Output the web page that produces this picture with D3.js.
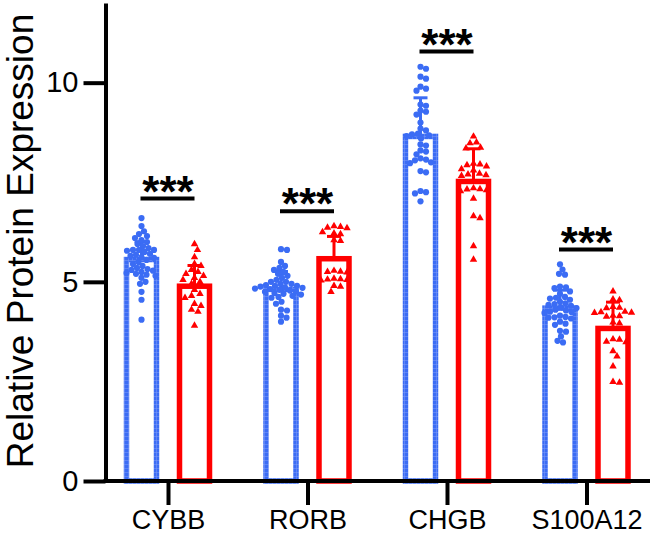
<!DOCTYPE html>
<html>
<head>
<meta charset="utf-8">
<script src="https://cdn.jsdelivr.net/npm/d3@7"></script>
<style>
  body { margin: 0; background: #fff; }
  svg { display: block; font-family: "Liberation Sans", Arial, sans-serif; }
</style>
</head>
<body>
<script>
var categories = ["CYBB", "RORB", "CHGB", "S100A12"];
var yTicks = [0, 5, 10];

var blueMean = [5.56, 4.81, 8.65, 4.34];
var blueSD = [0.45, 0.45, 0.97, 0.45];
var redMean = [4.89, 5.58, 7.52, 3.83];
var redSD = [0.52, 0.56, 0.82, 0.66];

var bluePoints = [
  [6.6, 6.4, 6.27, 6.2, 6.15, 6.1, 6.05, 6.0, 5.95, 5.9, 5.85, 5.8, 5.8, 5.8, 5.78, 5.75, 5.7, 5.65, 5.6, 5.55,
   5.5, 5.45, 5.4, 5.35, 5.32, 5.3, 5.28, 5.25, 5.22, 5.2, 5.18, 5.15, 5.1, 5.0, 4.95, 4.75, 4.55, 4.05, 5.62, 5.68],
  [5.82, 5.8, 5.5, 5.4, 5.35, 5.3, 5.25, 5.15, 5.1, 5.05, 5.0, 5.0, 4.95, 4.92, 4.9, 4.88, 4.86, 4.85, 4.83, 4.82,
   4.8, 4.78, 4.76, 4.75, 4.72, 4.7, 4.68, 4.65, 4.62, 4.6, 4.5, 4.45, 4.3, 4.28, 4.15, 4.1, 4.0, 4.9, 4.95, 5.2],
  [10.4, 10.35, 10.15, 10.1, 9.9, 9.85, 9.8, 9.45, 9.42, 9.3, 9.27, 9.2, 8.85, 8.8, 8.72, 8.7, 8.68, 8.66, 8.45, 8.42,
   8.27, 8.1, 8.07, 8.05, 8.0, 7.98, 7.78, 7.75, 7.28, 7.25, 7.22, 7.02, 8.6, 8.3, 9.0, 8.2],
  [5.44, 5.31, 5.2, 5.18, 4.88, 4.86, 4.84, 4.76, 4.62, 4.6, 4.58, 4.46, 4.44, 4.42, 4.36, 4.34, 4.25, 4.24, 4.22, 4.12,
   4.11, 4.1, 4.08, 3.95, 3.92, 3.77, 3.75, 3.63, 3.52, 3.48, 4.5, 4.3, 4.15, 4.7, 4.4, 4.0, 4.55, 4.28]
];
var redPoints = [
  [5.95, 5.8, 5.62, 5.45, 5.4, 5.25, 5.2, 5.15, 5.1, 5.05, 5.0, 4.95, 4.7, 4.65, 4.6, 4.45, 4.4, 4.3, 4.25, 3.9, 5.3, 4.8],
  [6.4, 6.38, 6.36, 6.35, 6.25, 6.22, 6.2, 6.05, 6.03, 5.28, 5.26, 5.25, 5.24, 5.08, 5.07, 5.06, 5.05, 5.04, 4.9, 4.88, 4.75],
  [8.65, 8.5, 8.48, 8.37, 8.35, 7.97, 7.95, 7.93, 7.9, 7.83, 7.8, 7.72, 7.7, 7.68, 7.66, 7.35, 7.33, 7.3, 7.32, 7.28,
   7.09, 6.65, 6.6, 5.9, 5.56],
  [4.76, 4.56, 4.54, 4.37, 4.35, 4.34, 4.25, 4.24, 4.23, 4.22, 4.15, 4.14, 4.13, 3.98, 3.96, 3.56, 3.55, 3.5, 3.49, 3.26,
   3.13, 2.88, 2.49, 2.47]
];

var sigY = [7.09, 6.77, 10.78, 5.81];
var sigLabel = ["***", "***", "***", "***"];

var width = 650, height = 536;
var blue = "#3b6cf4", red = "#ff0000";
var offset = 26.5, barW = 30;

var x = d3.scalePoint().domain(categories).range([168, 586.5]);
var y = d3.scaleLinear().domain([0, 12]).range([481, 3]);

var svg = d3.select("body").append("svg")
    .attr("width", width)
    .attr("height", height);

// grid texture used on the blue bars
var pat = svg.append("defs").append("pattern")
    .attr("id", "bluegrid")
    .attr("patternUnits", "userSpaceOnUse")
    .attr("width", 4).attr("height", 4);
pat.append("rect").attr("width", 4).attr("height", 4).attr("fill", blue);
pat.append("path").attr("d", "M0,0.5H4M0.5,0V4")
    .attr("stroke", "#7f9cf7").attr("stroke-width", 0.5);

// simple dodge layout so points do not sit on top of each other
function swarm(values, minDist) {
  var placed = [];
  values.map(function(v) { return { v: v, py: y(v) }; })
    .sort(function(a, b) { return b.v - a.v; })
    .forEach(function(p) {
      p.dx = 0;
      for (var k = 0; k < 120; k++) {
        var dx = (k % 2 ? 1 : -1) * Math.ceil(k / 2) * 0.5;
        var ok = placed.every(function(q) {
          return (dx - q.dx) * (dx - q.dx) + (p.py - q.py) * (p.py - q.py) >= minDist * minDist;
        });
        if (ok) { p.dx = dx; break; }
      }
      placed.push(p);
    });
  return placed;
}

var groups = [
  { mean: blueMean, sd: blueSD, off: -offset, color: blue, stroke: "url(#bluegrid)" },
  { mean: redMean, sd: redSD, off: offset, color: red, stroke: red }
];

groups.forEach(function(g) {
  var gg = svg.append("g");

  // bars
  gg.selectAll("rect")
    .data(categories)
    .enter().append("rect")
    .attr("x", function(d) { return x(d) + g.off - barW / 2; })
    .attr("y", function(d, i) { return y(g.mean[i]); })
    .attr("width", barW)
    .attr("height", function(d, i) { return y(0) - y(g.mean[i]); })
    .attr("fill", "#fff")
    .attr("stroke", g.stroke)
    .attr("stroke-width", 5.5);

  // error bars (upper SD)
  categories.forEach(function(c, i) {
    var cx = x(c) + g.off;
    var top = y(g.mean[i] + g.sd[i]);
    gg.append("line")
      .attr("x1", cx).attr("x2", cx)
      .attr("y1", y(g.mean[i])).attr("y2", top)
      .attr("stroke", g.color).attr("stroke-width", 3);
    gg.append("line")
      .attr("x1", cx - 7).attr("x2", cx + 7)
      .attr("y1", top).attr("y2", top)
      .attr("stroke", g.color).attr("stroke-width", 3);
  });
});

// points
categories.forEach(function(c, i) {
  var bx = x(c) - offset;
  svg.append("g").selectAll("circle")
    .data(swarm(bluePoints[i], 5.6))
    .enter().append("circle")
    .attr("cx", function(d) { return bx + d.dx; })
    .attr("cy", function(d) { return d.py; })
    .attr("r", 3.1)
    .attr("fill", blue);

  var rx = x(c) + offset;
  svg.append("g").selectAll("path")
    .data(swarm(redPoints[i], 6.5))
    .enter().append("path")
    .attr("d", d3.symbol().type(d3.symbolTriangle).size(24))
    .attr("transform", function(d) { return "translate(" + (rx + d.dx) + "," + d.py + ")"; })
    .attr("fill", red);
});

// axis-y
var yAxis = svg.append("g")
    .attr("transform", "translate(105.5,0)")
    .call(d3.axisLeft(y).tickValues(yTicks).tickSize(22).tickPadding(5).tickSizeOuter(0));
yAxis.attr("font-size", 29).attr("font-family", "Liberation Sans, Arial, sans-serif");
yAxis.select(".domain").attr("stroke-width", 4);
yAxis.selectAll(".tick line").attr("stroke-width", 4);
yAxis.selectAll("text").attr("fill", "#000");

// axis-x
var xAxis = svg.append("g")
    .attr("transform", "translate(0," + y(0) + ")")
    .call(d3.axisBottom(x).tickSize(24).tickPadding(5));
xAxis.attr("font-size", 27).attr("font-family", "Liberation Sans, Arial, sans-serif");
xAxis.select(".domain").remove();
xAxis.append("line")
    .attr("x1", 103.5).attr("x2", width)
    .attr("stroke", "#000").attr("stroke-width", 4);
xAxis.selectAll(".tick line").attr("stroke-width", 4);
xAxis.selectAll("text").attr("fill", "#000");

// significance lines
categories.forEach(function(c, i) {
  var ly = y(sigY[i]);
  svg.append("line")
    .attr("x1", x(c) - offset - 1).attr("x2", x(c) + offset)
    .attr("y1", ly).attr("y2", ly)
    .attr("stroke", "#000").attr("stroke-width", 4);
  svg.append("text")
    .attr("x", x(c))
    .attr("y", ly + 8)
    .attr("text-anchor", "middle")
    .attr("font-size", 44)
    .attr("font-weight", "bold")
    .text(sigLabel[i]);
});

// y title
svg.append("text")
    .attr("transform", "translate(33,241) rotate(-90)")
    .attr("text-anchor", "middle")
    .attr("font-size", 37)
    .text("Relative Protein Expression");
</script>
</body>
</html>
